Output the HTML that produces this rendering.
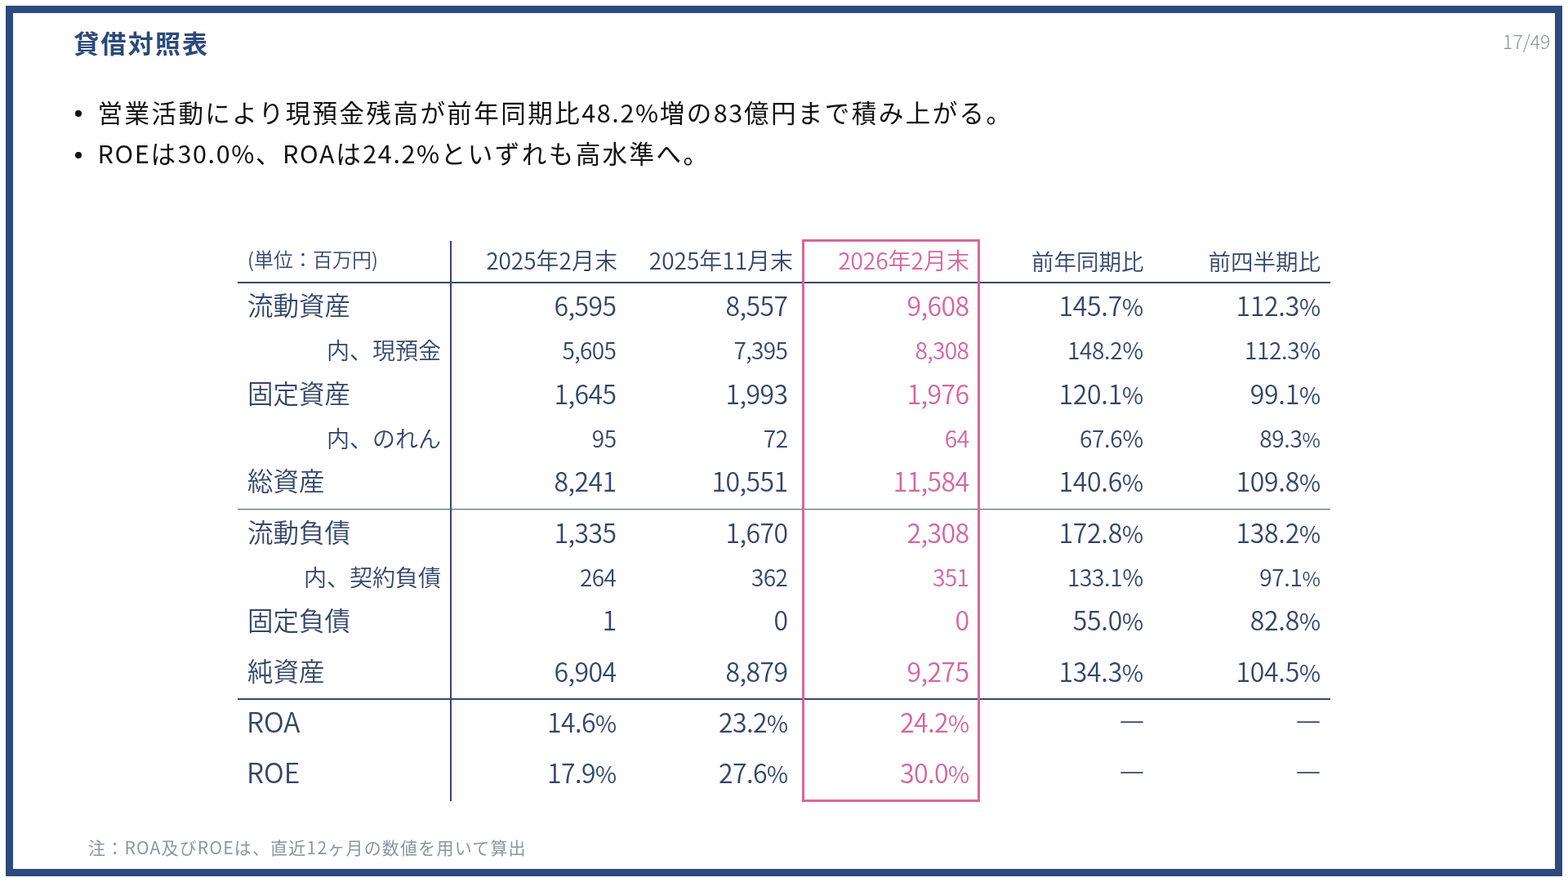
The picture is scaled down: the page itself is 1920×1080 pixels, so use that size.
<!DOCTYPE html>
<html lang="ja"><head><meta charset="utf-8"><title>貸借対照表</title>
<style>
html,body{margin:0;padding:0;}
body{width:1920px;height:1080px;position:relative;overflow:hidden;background:#fff;font-family:'Noto Sans CJK JP', 'Liberation Sans', sans-serif;}
.frame{position:absolute;left:7px;top:7px;width:1888px;height:1048px;border:9px solid #2c4a7b;}
.t{position:absolute;white-space:nowrap;font-weight:350;}
.title{position:absolute;left:90.3px;top:29.8px;font-size:31px;line-height:44px;font-weight:700;color:#2c4a79;letter-spacing:2.2px;}
.pg{position:absolute;right:21.6px;top:35px;font-size:23px;line-height:30px;color:#8a929c;font-weight:300;}
.bul{position:absolute;left:119.5px;font-size:30.5px;line-height:40px;color:#111;letter-spacing:2.46px;}
.bul .l{letter-spacing:1.66px;}
.dot{position:absolute;width:8.4px;height:8.4px;border-radius:50%;background:#111;}
.hl{position:absolute;background:#36486a;}
.vl{position:absolute;width:2px;background:#36486a;}
.pink{position:absolute;left:982px;top:293px;width:212px;height:683px;border:3px solid #d6659f;}
.note{position:absolute;left:108px;top:1022px;font-size:21px;line-height:30px;color:#8a96a2;letter-spacing:1.2px;}
</style></head><body>
<div class="frame"></div>
<div class="title">貸借対照表</div>
<div class="pg">17/49</div>
<div class="dot" style="left:91.6px;top:135px"></div>
<div class="dot" style="left:91.8px;top:185.5px"></div>
<div class="bul" style="top:116.6px">営業活動により現預金残高が前年同期比<span class="l">48.2%</span>増の<span class="l">83</span>億円まで積み上がる。</div>
<div class="bul" style="top:167.3px"><span class="l">ROE</span>は<span class="l">30.0%</span>、<span class="l">ROA</span>は<span class="l">24.2%</span>といずれも高水準へ。</div>
<div class="vl" style="left:551px;top:295px;height:686px"></div>
<div class="hl" style="left:291px;top:345px;width:1338px;height:2px"></div>
<div class="hl" style="left:291px;top:622.5px;width:1338px;height:1.5px;background:#4a5a72"></div>
<div class="hl" style="left:291px;top:855px;width:1338px;height:2px"></div>
<div class="pink"></div>
<div class="t" style="left:303px;top:303.20px;font-size:24px;line-height:28.80px;color:#34466a;">(単位：百万円)</div>
<div class="t" style="right:1164px;top:301.70px;font-size:28px;line-height:33.60px;color:#34466a;">2025年2月末</div>
<div class="t" style="right:949px;top:301.70px;font-size:28px;line-height:33.60px;color:#34466a;">2025年11月末</div>
<div class="t" style="right:733px;top:301.50px;font-size:28px;line-height:33.60px;color:#d6659f;">2026年2月末</div>
<div class="t" style="right:519.5px;top:302.50px;font-size:27.5px;line-height:33.00px;color:#34466a;">前年同期比</div>
<div class="t" style="right:303px;top:302.50px;font-size:27.5px;line-height:33.00px;color:#34466a;">前四半期比</div>
<div class="t" style="left:303px;top:353.90px;font-size:31.5px;line-height:37.80px;color:#34466a;">流動資産</div>
<div class="t" style="right:1165.6px;letter-spacing:-0.6px;top:353.60px;font-size:32px;line-height:38.40px;color:#34466a;">6,595</div>
<div class="t" style="right:955.6px;letter-spacing:-0.6px;top:353.60px;font-size:32px;line-height:38.40px;color:#34466a;">8,557</div>
<div class="t" style="right:733.6px;letter-spacing:-0.6px;top:353.60px;font-size:32px;line-height:38.40px;color:#d6659f;">9,608</div>
<div class="t" style="right:520.3px;letter-spacing:-0.3px;top:353.60px;font-size:32px;line-height:38.40px;color:#34466a;">145.7<span style="font-size:28.5px">%</span></div>
<div class="t" style="right:303.3px;letter-spacing:-0.3px;top:353.60px;font-size:32px;line-height:38.40px;color:#34466a;">112.3<span style="font-size:28.5px">%</span></div>
<div class="t" style="right:1380px;top:412.30px;font-size:28px;line-height:33.60px;color:#34466a;">内、現預金</div>
<div class="t" style="right:1165.6px;letter-spacing:-0.6px;top:412.30px;font-size:28px;line-height:33.60px;color:#34466a;">5,605</div>
<div class="t" style="right:955.6px;letter-spacing:-0.6px;top:412.30px;font-size:28px;line-height:33.60px;color:#34466a;">7,395</div>
<div class="t" style="right:733.6px;letter-spacing:-0.6px;top:412.30px;font-size:28px;line-height:33.60px;color:#d6659f;">8,308</div>
<div class="t" style="right:520.3px;letter-spacing:-0.3px;top:412.30px;font-size:28px;line-height:33.60px;color:#34466a;">148.2%</div>
<div class="t" style="right:303.3px;letter-spacing:-0.3px;top:412.30px;font-size:28px;line-height:33.60px;color:#34466a;">112.3%</div>
<div class="t" style="left:303px;top:461.80px;font-size:31.5px;line-height:37.80px;color:#34466a;">固定資産</div>
<div class="t" style="right:1165.6px;letter-spacing:-0.6px;top:461.50px;font-size:32px;line-height:38.40px;color:#34466a;">1,645</div>
<div class="t" style="right:955.6px;letter-spacing:-0.6px;top:461.50px;font-size:32px;line-height:38.40px;color:#34466a;">1,993</div>
<div class="t" style="right:733.6px;letter-spacing:-0.6px;top:461.50px;font-size:32px;line-height:38.40px;color:#d6659f;">1,976</div>
<div class="t" style="right:520.3px;letter-spacing:-0.3px;top:461.50px;font-size:32px;line-height:38.40px;color:#34466a;">120.1<span style="font-size:28.5px">%</span></div>
<div class="t" style="right:303.3px;letter-spacing:-0.3px;top:461.50px;font-size:32px;line-height:38.40px;color:#34466a;">99.1<span style="font-size:28.5px">%</span></div>
<div class="t" style="right:1380px;top:520.20px;font-size:28px;line-height:33.60px;color:#34466a;">内、のれん</div>
<div class="t" style="right:1165.6px;letter-spacing:-0.6px;top:520.20px;font-size:28px;line-height:33.60px;color:#34466a;">95</div>
<div class="t" style="right:955.6px;letter-spacing:-0.6px;top:520.20px;font-size:28px;line-height:33.60px;color:#34466a;">72</div>
<div class="t" style="right:733.6px;letter-spacing:-0.6px;top:520.20px;font-size:28px;line-height:33.60px;color:#d6659f;">64</div>
<div class="t" style="right:520.3px;letter-spacing:-0.3px;top:520.20px;font-size:28px;line-height:33.60px;color:#34466a;">67.6%</div>
<div class="t" style="right:303.3px;letter-spacing:-0.3px;top:520.20px;font-size:28px;line-height:33.60px;color:#34466a;">89.3<span style="font-size:24.5px">%</span></div>
<div class="t" style="left:303px;top:569.40px;font-size:31.5px;line-height:37.80px;color:#34466a;">総資産</div>
<div class="t" style="right:1165.6px;letter-spacing:-0.6px;top:569.10px;font-size:32px;line-height:38.40px;color:#34466a;">8,241</div>
<div class="t" style="right:955.6px;letter-spacing:-0.6px;top:569.10px;font-size:32px;line-height:38.40px;color:#34466a;">10,551</div>
<div class="t" style="right:733.6px;letter-spacing:-0.6px;top:569.10px;font-size:32px;line-height:38.40px;color:#d6659f;">11,584</div>
<div class="t" style="right:520.3px;letter-spacing:-0.3px;top:569.10px;font-size:32px;line-height:38.40px;color:#34466a;">140.6<span style="font-size:28.5px">%</span></div>
<div class="t" style="right:303.3px;letter-spacing:-0.3px;top:569.10px;font-size:32px;line-height:38.40px;color:#34466a;">109.8<span style="font-size:28.5px">%</span></div>
<div class="t" style="left:303px;top:631.80px;font-size:31.5px;line-height:37.80px;color:#34466a;">流動負債</div>
<div class="t" style="right:1165.6px;letter-spacing:-0.6px;top:631.50px;font-size:32px;line-height:38.40px;color:#34466a;">1,335</div>
<div class="t" style="right:955.6px;letter-spacing:-0.6px;top:631.50px;font-size:32px;line-height:38.40px;color:#34466a;">1,670</div>
<div class="t" style="right:733.6px;letter-spacing:-0.6px;top:631.50px;font-size:32px;line-height:38.40px;color:#d6659f;">2,308</div>
<div class="t" style="right:520.3px;letter-spacing:-0.3px;top:631.50px;font-size:32px;line-height:38.40px;color:#34466a;">172.8<span style="font-size:28.5px">%</span></div>
<div class="t" style="right:303.3px;letter-spacing:-0.3px;top:631.50px;font-size:32px;line-height:38.40px;color:#34466a;">138.2<span style="font-size:28.5px">%</span></div>
<div class="t" style="right:1380px;top:690.30px;font-size:28px;line-height:33.60px;color:#34466a;">内、契約負債</div>
<div class="t" style="right:1165.6px;letter-spacing:-0.6px;top:690.30px;font-size:28px;line-height:33.60px;color:#34466a;">264</div>
<div class="t" style="right:955.6px;letter-spacing:-0.6px;top:690.30px;font-size:28px;line-height:33.60px;color:#34466a;">362</div>
<div class="t" style="right:733.6px;letter-spacing:-0.6px;top:690.30px;font-size:28px;line-height:33.60px;color:#d6659f;">351</div>
<div class="t" style="right:520.3px;letter-spacing:-0.3px;top:690.30px;font-size:28px;line-height:33.60px;color:#34466a;">133.1%</div>
<div class="t" style="right:303.3px;letter-spacing:-0.3px;top:690.30px;font-size:28px;line-height:33.60px;color:#34466a;">97.1<span style="font-size:24.5px">%</span></div>
<div class="t" style="left:303px;top:739.70px;font-size:31.5px;line-height:37.80px;color:#34466a;">固定負債</div>
<div class="t" style="right:1165.6px;letter-spacing:-0.6px;top:739.40px;font-size:32px;line-height:38.40px;color:#34466a;">1</div>
<div class="t" style="right:955.6px;letter-spacing:-0.6px;top:739.40px;font-size:32px;line-height:38.40px;color:#34466a;">0</div>
<div class="t" style="right:733.6px;letter-spacing:-0.6px;top:739.40px;font-size:32px;line-height:38.40px;color:#d6659f;">0</div>
<div class="t" style="right:520.3px;letter-spacing:-0.3px;top:739.40px;font-size:32px;line-height:38.40px;color:#34466a;">55.0<span style="font-size:28.5px">%</span></div>
<div class="t" style="right:303.3px;letter-spacing:-0.3px;top:739.40px;font-size:32px;line-height:38.40px;color:#34466a;">82.8<span style="font-size:28.5px">%</span></div>
<div class="t" style="left:303px;top:802.10px;font-size:31.5px;line-height:37.80px;color:#34466a;">純資産</div>
<div class="t" style="right:1165.6px;letter-spacing:-0.6px;top:801.80px;font-size:32px;line-height:38.40px;color:#34466a;">6,904</div>
<div class="t" style="right:955.6px;letter-spacing:-0.6px;top:801.80px;font-size:32px;line-height:38.40px;color:#34466a;">8,879</div>
<div class="t" style="right:733.6px;letter-spacing:-0.6px;top:801.80px;font-size:32px;line-height:38.40px;color:#d6659f;">9,275</div>
<div class="t" style="right:520.3px;letter-spacing:-0.3px;top:801.80px;font-size:32px;line-height:38.40px;color:#34466a;">134.3<span style="font-size:28.5px">%</span></div>
<div class="t" style="right:303.3px;letter-spacing:-0.3px;top:801.80px;font-size:32px;line-height:38.40px;color:#34466a;">104.5<span style="font-size:28.5px">%</span></div>
<div class="t" style="left:302px;top:862.80px;font-size:33.5px;line-height:40.20px;color:#34466a;">ROA</div>
<div class="t" style="right:1165.6px;letter-spacing:-0.6px;top:863.70px;font-size:32px;line-height:38.40px;color:#34466a;">14.6<span style="font-size:28.5px">%</span></div>
<div class="t" style="right:955.6px;letter-spacing:-0.6px;top:863.70px;font-size:32px;line-height:38.40px;color:#34466a;">23.2<span style="font-size:28.5px">%</span></div>
<div class="t" style="right:733.6px;letter-spacing:-0.6px;top:863.70px;font-size:32px;line-height:38.40px;color:#d6659f;">24.2<span style="font-size:28.5px">%</span></div>
<div class="t" style="right:518px;top:862.80px;font-size:32px;line-height:38.40px;color:#34466a;"><span style="display:inline-block;transform:scaleY(1.35)">―</span></div>
<div class="t" style="right:302px;top:862.80px;font-size:32px;line-height:38.40px;color:#34466a;"><span style="display:inline-block;transform:scaleY(1.35)">―</span></div>
<div class="t" style="left:302px;top:925.20px;font-size:33.5px;line-height:40.20px;color:#34466a;">ROE</div>
<div class="t" style="right:1165.6px;letter-spacing:-0.6px;top:926.10px;font-size:32px;line-height:38.40px;color:#34466a;">17.9<span style="font-size:28.5px">%</span></div>
<div class="t" style="right:955.6px;letter-spacing:-0.6px;top:926.10px;font-size:32px;line-height:38.40px;color:#34466a;">27.6<span style="font-size:28.5px">%</span></div>
<div class="t" style="right:733.6px;letter-spacing:-0.6px;top:926.10px;font-size:32px;line-height:38.40px;color:#d6659f;">30.0<span style="font-size:28.5px">%</span></div>
<div class="t" style="right:518px;top:925.20px;font-size:32px;line-height:38.40px;color:#34466a;"><span style="display:inline-block;transform:scaleY(1.35)">―</span></div>
<div class="t" style="right:302px;top:925.20px;font-size:32px;line-height:38.40px;color:#34466a;"><span style="display:inline-block;transform:scaleY(1.35)">―</span></div>
<div class="note">注：ROA及びROEは、直近12ヶ月の数値を用いて算出</div>
</body></html>
